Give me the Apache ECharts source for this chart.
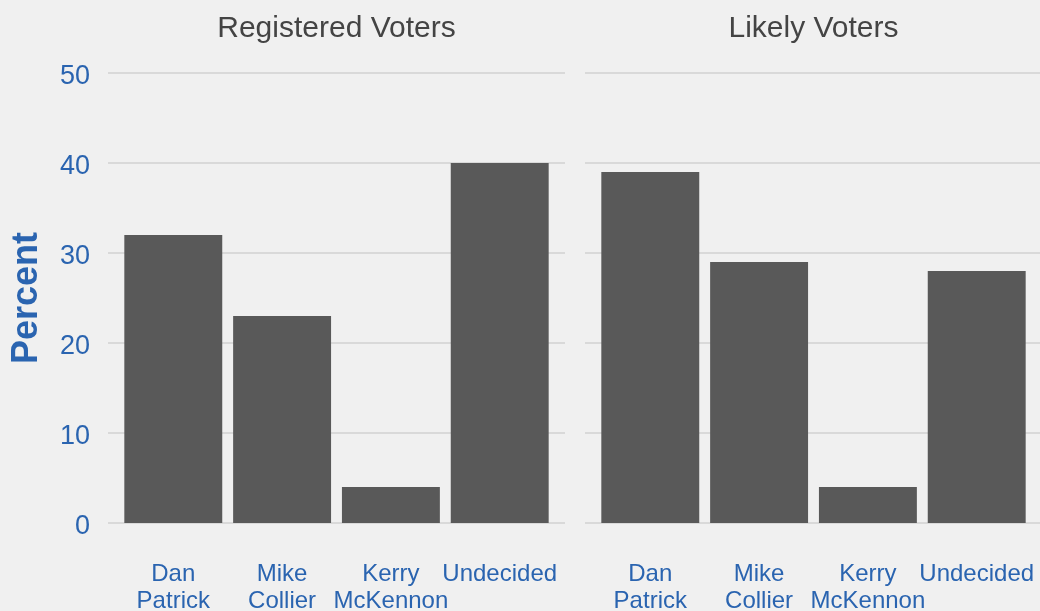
<!DOCTYPE html>
<html>
<head>
<meta charset="utf-8">
<script src="https://cdn.jsdelivr.net/npm/echarts@6/dist/echarts.min.js"></script>
<style>
html,body{margin:0;padding:0;background:#f0f0f0;}
#chart{width:1040px;height:611px;}
</style>
</head>
<body>
<div id="chart"></div>
<script>
var categories = ['Dan\nPatrick', 'Mike\nCollier', 'Kerry\nMcKennon', 'Undecided'];
var panels = ['Registered Voters', 'Likely Voters'];
var registeredValues = [32, 23, 4, 40];
var likelyValues = [39, 29, 4, 28];
var yTicks = [0, 10, 20, 30, 40, 50];

var blue = '#2a64b0';
var font = 'Liberation Sans, Arial, Helvetica, sans-serif';
var plotTop = 73, plotHeight = 450;
var panelLeft = [108, 585], panelWidth = 457;
var unit = panelWidth / 4.2;

var grids = [], xAxes = [], yAxes = [], series = [], titles = [];
var seriesData = [registeredValues, likelyValues];
for (var p = 0; p < 2; p++) {
  grids.push({left: panelLeft[p], width: panelWidth, top: plotTop, height: plotHeight,
    containLabel: false, outerBoundsMode: 'none'});
  grids.push({left: panelLeft[p] + 0.1 * unit, width: 4 * unit, top: plotTop, height: plotHeight,
    containLabel: false, outerBoundsMode: 'none'});
  var gBg = 2 * p, gBar = 2 * p + 1;
  xAxes.push({gridIndex: gBg, type: 'category', data: categories, show: false});
  xAxes.push({gridIndex: gBar, type: 'category', data: categories,
    axisLine: {show: false}, axisTick: {show: false},
    axisLabel: {color: blue, fontFamily: font, fontSize: 24, lineHeight: 27, margin: 38, interval: 0}});
  yAxes.push({gridIndex: gBg, type: 'value', min: yTicks[0], max: yTicks[yTicks.length - 1], interval: 10,
    axisLine: {show: false}, axisTick: {show: false},
    axisLabel: {show: p === 0, margin: 18,
      formatter: function (v) { return '{t|' + v + '}'; },
      rich: {t: {color: blue, fontFamily: font, fontSize: 27, padding: [8, 0, 0, 0]}}},
    splitLine: {show: true, lineStyle: {color: '#d9d9d9', width: 2}},
    name: p === 0 ? 'Percent' : '', nameLocation: 'middle', nameGap: 63, nameRotate: 90,
    nameTextStyle: {color: blue, fontFamily: font, fontSize: 36, fontWeight: 'bold'}});
  yAxes.push({gridIndex: gBar, type: 'value', min: yTicks[0], max: yTicks[yTicks.length - 1], interval: 10, show: false});
  series.push({type: 'bar', xAxisIndex: gBar, yAxisIndex: gBar, data: seriesData[p],
    barWidth: '90%', itemStyle: {color: '#595959'}, silent: true});
  titles.push({text: panels[p], left: panelLeft[p] + panelWidth / 2 - 5, top: 9, textAlign: 'center',
    textStyle: {color: '#444444', fontFamily: font, fontSize: 30, fontWeight: 'normal'}});
}

var chart = echarts.init(document.getElementById('chart'));
chart.setOption({
  backgroundColor: '#f0f0f0',
  animation: false,
  title: titles,
  grid: grids,
  xAxis: xAxes,
  yAxis: yAxes,
  series: series
});
</script>
</body>
</html>
